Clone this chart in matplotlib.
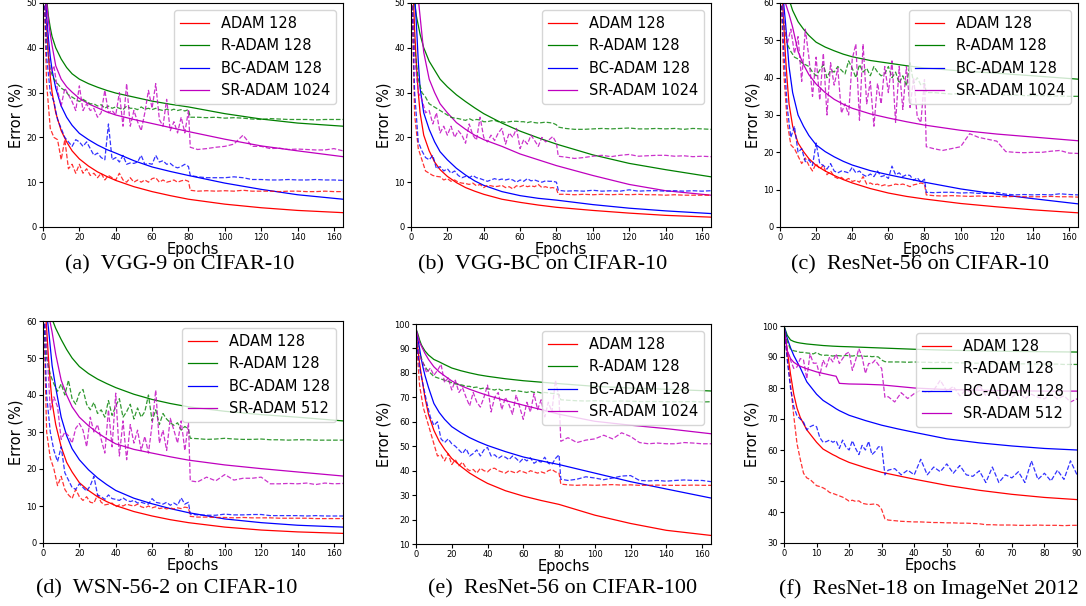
import matplotlib.pyplot as plt

# ----- epochs ----------------------------------------------------------------
train_ep = [0, 1, 2, 3, 4, 5, 7, 10, 13, 16, 20, 25, 30, 35, 40, 50, 60, 70, 80, 100, 120, 140, 165]
test_ep = list(range(0, 81, 2)) + [81] + list(range(85, 166, 5))
train_ep_in = [0, 1, 2, 3, 4, 5, 7, 10, 12, 15, 16, 17, 20, 25, 30, 35, 40, 50, 60, 70, 80, 90]
test_ep_in = list(range(0, 33)) + list(range(34, 91, 2))

labels = ["ADAM 128", "R-ADAM 128", "BC-ADAM 128"]
colors = ["r", "g", "b", "m"]

# ----- (a) VGG-9 on CIFAR-10 -------------------------------------------------
a_adam_train = [90, 55, 45, 38, 33.5, 30, 25.5, 21.5, 19, 17, 15.2, 13.6, 12.3, 11.3, 10.4, 9.0, 7.9, 7.0, 6.2, 5.1, 4.3, 3.7, 3.2]
a_radam_train = [90, 58, 51, 47, 44.5, 42.5, 40, 37.5, 35.6, 34.2, 33, 32, 31.2, 30.5, 29.9, 29, 28.1, 27.4, 26.8, 25.3, 24.1, 23.2, 22.5]
a_bc_train = [90, 55, 47, 42, 38, 35, 31, 27, 24.5, 22.7, 20.9, 19.5, 18.3, 17.3, 16.5, 14.8, 13.4, 12.4, 11.5, 9.8, 8.4, 7.2, 6.2]
a_sr_train = [90, 60, 50, 46, 43, 40.5, 36, 33, 31.3, 30.1, 28.7, 27.5, 26.6, 25.7, 25, 24, 23.1, 22.2, 21.3, 19.6, 18.1, 17.0, 15.7]
a_adam_test = [60, 32, 22, 20, 19.5, 15, 19.5, 13, 14, 12, 14, 12, 13, 11.5, 12, 11, 12, 10.5, 11.5, 11, 10.5,
               12, 10.5, 10, 11, 10, 10.5, 10, 10.5, 10, 10.8, 11, 10, 10.5, 10, 10.2, 10.5, 10, 10.3, 10.5, 10.2,
               8.2, 8, 8.1, 8, 8.1, 8, 8.2, 8, 8, 8, 7.9, 8, 8, 7.9, 7.9, 8, 7.9, 7.9]
a_radam_test = [60, 42, 35, 33, 32, 31, 30.5, 29.5, 29, 28.5, 28, 28.5, 28, 27.5, 27.5, 27, 27.3, 26.5, 27, 26.5, 26.8,
                26.5, 26.2, 27, 26.5, 26.5, 26.2, 26.8, 26.3, 26.5, 26.2, 26.5, 26.2, 26, 26.3, 26, 26.3, 26, 26.2, 25.9, 26.2,
                24.5, 24.5, 24.4, 24.5, 24.3, 24.4, 24.3, 24.1, 24, 24.2, 24.1, 24, 24, 24, 23.9, 24, 24, 24]
a_bc_test = [60, 38, 30, 28, 24, 22, 20, 19, 18, 19.5, 19, 18, 19, 17.5, 16, 16.5, 15.5, 15, 23, 15, 15.5,
             14.5, 16, 14, 14.3, 14.2, 14.5, 16, 14, 14.2, 14, 16, 14.5, 14.8, 14, 14.2, 13.5, 13.2, 13.5, 14, 13.5,
             11.5, 11.2, 11, 11, 11, 11.2, 11, 10.6, 10.6, 10.5, 10.5, 10.6, 10.5, 10.5, 10.6, 10.5, 10.5, 10.4]
a_sr_test = [60, 45, 34, 36, 30.5, 27, 31, 29.5, 28, 26, 31.5, 26, 27.5, 26, 26.5, 24.5, 25.5, 30.5, 25.5, 26, 25,
             30, 22.5, 32, 22.5, 26, 23.5, 21.5, 25.5, 30.5, 26.5, 32, 24, 22.5, 28.5, 21.5, 23.5, 21, 24.5, 21, 26,
             17.8, 17.3, 17.5, 17.8, 18, 18.5, 20.5, 18, 18, 17.5, 17.6, 17.3, 17.4, 17.3, 17.2, 17.2, 17.5, 17]

# ----- (b) VGG-BC on CIFAR-10 ------------------------------------------------
b_adam_train = [90, 55, 44, 36, 30, 25.5, 20.5, 17, 14.5, 12.8, 11.3, 9.9, 8.8, 8.0, 7.3, 6.2, 5.5, 4.9, 4.4, 3.7, 3.1, 2.6, 2.2]
b_radam_train = [90, 55, 50, 47, 45, 43, 40, 37, 35, 33, 31.3, 29.5, 28, 26.6, 25.3, 23.2, 21.4, 19.9, 18.5, 16.1, 14.2, 12.8, 11.2]
b_bc_train = [90, 60, 52, 45, 37, 31, 25.5, 21.8, 19, 16.8, 15, 13.1, 11.6, 10.3, 9.3, 7.9, 7.0, 6.4, 6.0, 5.0, 4.2, 3.6, 3.0]
b_sr_train = [90, 62, 58, 55, 51, 47, 39, 33, 30, 27.5, 25.5, 23.3, 21.8, 20.5, 19.5, 18, 16.3, 15, 13.7, 11.5, 9.5, 8.1, 7.1]
b_adam_test = [60, 25, 17.5, 15, 12.5, 12, 11.5, 11.3, 11.2, 10.5, 10.8, 10.2, 10.5, 10, 9.8, 9.7, 9.5, 9.8, 9.2, 9.5, 8.8,
               9.3, 9.2, 9, 9.1, 9.3, 8.8, 9, 8.5, 9.2, 9, 9.3, 9, 9.2, 9, 9.5, 8.8, 9, 8.7, 8.8, 8.5,
               7.3, 7.3, 7.2, 7.3, 7.2, 7.3, 7.2, 7.3, 7.2, 7.3, 7.2, 7.2, 7.1, 7.2, 7.1, 7.1, 7.1, 7.1]
b_radam_test = [60, 40, 33, 30, 29, 27.5, 27, 26.5, 26, 25.5, 25, 24.5, 24.3, 24.2, 24, 23.8, 24.2, 23.8, 24, 23.9, 23.5,
                23.5, 23.7, 23.8, 23.5, 23.5, 23.3, 23.5, 23.6, 23.6, 23.5, 23.5, 23.3, 23.5, 23.3, 23.2, 23.3, 23.4, 23.3, 23.2, 22.8,
                22.3, 22, 21.8, 21.8, 21.9, 22, 21.9, 22, 22.1, 21.9, 21.9, 22, 21.9, 22, 21.8, 22, 21.9, 21.8]
b_bc_test = [60, 30, 19, 17, 15.5, 15, 16, 13, 13.5, 12.5, 13, 12, 12.5, 11.5, 11, 11.3, 11, 11.5, 11, 10.8, 10.5,
             10.2, 10.5, 10.8, 10.5, 10.7, 10.5, 10.7, 10.5, 10, 10.5, 10.2, 10.8, 10.3, 10.5, 10.2, 10, 10.3, 10.2, 10.2, 10,
             8.2, 8, 8.1, 8, 8.2, 8, 8.1, 8, 8.3, 8, 8.1, 8.1, 8, 8.1, 8, 8.1, 8, 8.1]
b_sr_test = [60, 38, 30, 28.5, 25.5, 26, 23, 25.5, 21, 22.5, 20.5, 22.5, 20, 21.5, 20.5, 18.7, 23, 20.5, 19.4, 24.5, 20,
             19, 20.5, 19.3, 21, 22, 18.5, 21, 20, 22, 17.5, 19.5, 18.5, 20.5, 19.3, 18, 20, 19, 19.5, 20.2, 18.7,
             15.8, 15.6, 15.3, 15.5, 15.8, 16, 15.7, 16, 16.2, 15.8, 15.9, 16, 16, 15.8, 15.9, 15.7, 15.8, 15.7]

# ----- (c) ResNet-56 on CIFAR-10 ---------------------------------------------
c_adam_train = [90, 65, 55, 46, 39, 33, 27, 22.5, 20.2, 18.3, 16.5, 15, 13.8, 12.7, 11.8, 10.3, 9.1, 8.2, 7.5, 6.3, 5.4, 4.6, 3.8]
c_radam_train = [90, 72, 68, 66, 63, 61, 58, 55, 53, 51.3, 49.5, 48.2, 47.2, 46.3, 45.6, 44.6, 43.9, 43.2, 42.6, 41.8, 41.2, 40.5, 39.6]
c_bc_train = [90, 65, 60, 55, 49, 43, 36, 30, 27, 24.5, 22, 20.2, 18.8, 17.6, 16.6, 15.1, 14, 13, 12, 10.2, 8.8, 7.6, 6.2]
c_sr_train = [90, 62, 61, 60, 58.5, 57, 53.5, 47, 43.5, 40.8, 38.3, 36, 34.2, 32.9, 31.8, 30.3, 29.2, 28.2, 27.3, 25.9, 24.9, 24.1, 23.1]
c_adam_test = [70, 42, 28, 22, 21, 19, 17, 18.5, 16.5, 15, 17, 15.5, 16.5, 14, 15, 13.5, 13, 13.3, 12.5, 13, 12.2,
               12.5, 12, 13.5, 11.5, 11.8, 11.3, 11.5, 11, 11.3, 11, 11.2, 11.5, 11.3, 11.5, 11.2, 10.8, 11.3, 11.5, 11.8, 11.5,
               8.6, 8.4, 8.3, 8.4, 8.3, 8.2, 8.3, 8.2, 8.2, 8.1, 8.2, 8.1, 8.1, 8.1, 8.2, 8.1, 8.1, 8.0]
c_radam_test = [70, 55, 49, 47, 45.5, 45, 44, 43.5, 43, 41.5, 40.5, 42, 43.5, 40, 42, 41.5, 43, 42, 41, 44.5, 42.5,
                40, 43.5, 41.5, 42.5, 40.5, 43, 41.5, 40.5, 41, 43, 40, 41.5, 38.5, 40.5, 37.8, 44, 38.5, 40, 38, 38.5,
                36, 36, 35.8, 35.6, 35.8, 35.5, 35.6, 35.5, 35.6, 35.3, 35.4, 35.2, 35.2, 35.2, 35.1, 35.1, 35, 35]
c_bc_test = [70, 48, 32, 24, 27, 20, 21, 17.5, 18, 16.5, 22.5, 17, 16.5, 15.5, 17, 15, 14.5, 15, 14.8, 14.5, 16,
             14.5, 15, 14, 13.5, 14.2, 13.5, 15, 13.5, 13.8, 13, 16.3, 14, 14.5, 13.5, 14, 13.8, 12.5, 13.2, 12, 12.8,
             9.3, 9.2, 9.3, 9.3, 9.1, 9.2, 9, 9, 9.3, 8.8, 8.6, 8.7, 8.6, 8.7, 8.6, 8.9, 8.7, 8.6]
c_sr_test = [70, 56, 49, 53, 46.5, 51, 39, 53, 45.5, 35, 45.5, 34, 46.5, 30, 44, 38, 42.5, 30.5, 33, 30, 45,
             49, 28.6, 49, 33, 39, 27, 38.5, 33, 43, 36, 44.5, 28, 43, 31.5, 43, 32, 40, 29.5, 28, 39.5,
             21.5, 21, 20.5, 21, 21.5, 25, 24, 23.5, 23, 20.2, 20, 19.9, 20, 20, 20.3, 20.5, 19.8, 19.7]

# ----- (d) WSN-56-2 on CIFAR-10 ----------------------------------------------
d_adam_train = [90, 65, 58, 50, 43.5, 38, 32, 26, 21.8, 19.2, 16.3, 14.2, 12.5, 11.2, 10.1, 8.5, 7.3, 6.3, 5.5, 4.3, 3.5, 3.0, 2.6]
d_radam_train = [90, 70, 67.5, 65, 62.5, 60.5, 58, 55, 52.3, 50, 47.7, 45.8, 44.3, 43.1, 42, 40.2, 38.8, 37.7, 36.8, 35.6, 34.7, 34, 33]
d_bc_train = [90, 65, 62, 58, 53, 48, 42, 34, 29, 25.5, 22.5, 19.8, 17.6, 15.8, 14.2, 12.1, 10.6, 9.3, 8.2, 6.5, 5.5, 4.8, 4.3]
d_sr_train = [90, 65, 63.5, 62, 59.5, 57, 51, 44, 40, 36.8, 34, 31.7, 29.8, 28.2, 26.8, 25.3, 24.3, 23.3, 22.4, 21.1, 20.1, 19.2, 18.1]
d_adam_test = [70, 30, 23, 20, 15.5, 18, 14.5, 13, 12, 14.5, 12.5, 11.5, 12.5, 11, 10.8, 13, 11, 10.3, 10.5, 10.8, 9.8,
               10.3, 10, 10.5, 10.2, 10, 10.5, 9.8, 9.5, 10, 9.5, 9.8, 9.3, 9.5, 9.2, 9.5, 9.2, 9.5, 9.3, 9.7, 9.5,
               7.2, 7, 7, 6.9, 6.9, 6.8, 6.9, 6.8, 6.8, 6.8, 6.7, 6.7, 6.7, 6.7, 6.6, 6.6, 6.6, 6.6]
d_radam_test = [70, 50, 45.5, 43, 41, 43, 40, 44, 39, 37.5, 40.5, 41.5, 37.5, 36, 38, 35, 36, 34, 38.5, 34.5, 37,
                39, 34, 35.5, 37.5, 33.5, 36.5, 34, 35.5, 40, 33, 36, 32, 35, 33.5, 32.5, 31.8, 32.5, 30.5, 31.5, 30.8,
                28.3, 28.2, 28, 28.1, 28.3, 28.1, 28, 28, 28.1, 27.9, 27.9, 27.8, 27.9, 27.9, 27.8, 27.8, 27.8, 27.8]
d_bc_test = [70, 40, 30, 25, 22, 26, 19, 17, 15, 14.5, 16, 15, 14, 15.5, 18, 13, 12.5, 11.8, 13, 12, 11.8,
             11.5, 12.2, 11.5, 11.2, 11.5, 10.8, 11, 10.7, 10.5, 12, 11, 10.8, 10.5, 11, 10.2, 10.8, 10.2, 12.2, 10.5, 11,
             7.8, 7.6, 7.5, 7.5, 7.8, 7.6, 7.6, 7.7, 7.7, 7.4, 7.4, 7.4, 7.4, 7.3, 7.4, 7.3, 7.3, 7.3]
d_sr_test = [70, 54, 36, 39.5, 36.8, 28, 30, 29, 27, 31, 32.3, 30.5, 26, 34, 30, 32, 28, 24.3, 36, 26, 40.5,
             23.5, 33, 22.5, 32, 27, 30.5, 25, 28.8, 24.3, 32, 41.3, 27, 30.5, 25, 33.7, 30.5, 27, 33, 25, 32.5,
             16.8, 16.5, 17.8, 16.8, 18.5, 17, 17.5, 17.5, 17.8, 16, 16, 16.1, 16, 16.2, 15.8, 16.2, 16, 16.1]

# ----- (e) ResNet-56 on CIFAR-100 --------------------------------------------
e_adam_train = [97, 90, 84, 79, 74.5, 70, 63, 56.5, 52, 48.7, 45, 41.8, 39, 36.8, 34.8, 31.8, 29.6, 27.8, 26.2, 21.8, 18.4, 15.6, 13.5]
e_radam_train = [98, 96, 93.5, 91.5, 90.2, 89, 87.3, 85.5, 84.5, 83.4, 82, 80.9, 80, 79.2, 78.6, 77.6, 76.8, 76.2, 75.6, 74.5, 73.8, 73.3, 72.6]
e_bc_train = [98, 94, 90, 85.5, 82, 79, 74, 67.5, 63.8, 61, 58, 55.6, 53.5, 51.8, 50.3, 47.8, 45.6, 44, 42.5, 39, 35.5, 32.5, 28.8]
e_sr_train = [98, 95, 92.5, 91, 89.5, 88, 85.5, 82.5, 80.4, 78.8, 76.7, 74.8, 73.3, 72, 70.8, 68.7, 66.8, 65, 63.1, 60.2, 58.6, 57.2, 55.1]
e_adam_test = [95, 75, 66, 61, 56, 51, 46, 46.5, 44, 47, 42.5, 44.5, 42, 43.5, 41, 40, 40.5, 39, 41, 40, 39.5,
               40.8, 41, 40, 39.5, 39, 40, 39.5, 39, 40, 39.5, 39, 40, 39.5, 39, 39.5, 39, 40, 40.5, 39.5, 39,
               34.5, 34.2, 34, 34.2, 34, 34.2, 34.3, 34.1, 34.2, 34, 34, 34.1, 34, 34, 34, 34.1, 34, 34]
e_radam_test = [95, 88, 84, 81.5, 80, 78.5, 78, 77.5, 77, 76.5, 76, 75.5, 75.3, 75, 74.5, 74.5, 74, 74.2, 73.5, 73.8, 73.5,
                73.3, 73, 73.5, 72.8, 73, 73.2, 72.6, 72.8, 72.5, 72.3, 72, 72.5, 72, 72.2, 71.8, 72, 71.8, 71.6, 71.5, 71.2,
                69, 68.8, 68.6, 68.5, 68.6, 68.5, 68.4, 68.5, 68.4, 68.3, 68.3, 68.3, 68.2, 68.2, 68.2, 68.3, 68.1, 68.2]
e_bc_test = [95, 82, 75, 68, 62, 58.5, 60, 53, 51.5, 53, 51, 50, 48.5, 47, 49, 46, 47, 48.5, 46, 48.5, 49.5,
             46, 46.5, 45, 46, 45.5, 44.5, 46, 45, 43.5, 45, 44, 45.3, 43, 44, 43.5, 45.5, 43, 42.5, 45, 46.5,
             36.5, 36, 36.5, 37.5, 37, 36.3, 37, 37.8, 38, 36, 35.8, 36, 35.7, 36, 36.2, 36, 36, 35.5]
e_sr_test = [95, 87, 84, 80, 82, 79, 81, 83.5, 76, 78, 73, 77, 72, 74, 70, 66.5, 72, 68, 66, 70, 75,
             64, 70, 72, 65, 70, 67, 63, 71, 66, 61, 68, 64, 71.5, 65, 69, 62, 68, 64, 77, 70,
             52, 53.5, 51.5, 52.5, 53, 54.5, 53, 55.5, 54, 51.5, 51, 51.3, 51, 51, 51.5, 51.3, 51, 51]

# ----- (f) ResNet-18 on ImageNet 2012 ----------------------------------------
f_adam_train = [100, 92, 84.5, 78, 73.5, 70.5, 66.5, 62.5, 60.3, 58.5, 58, 57.4, 56, 54.3, 52.8, 51.7, 50.6, 48.6, 47, 45.7, 44.7, 44]
f_radam_train = [100, 97, 95.5, 95, 94.7, 94.5, 94.2, 93.9, 93.7, 93.5, 93.45, 93.4, 93.3, 93.1, 92.9, 92.7, 92.5, 92.2, 92, 91.8, 91.7, 91.6]
f_bc_train = [100, 96, 93, 90.5, 88.5, 86.5, 82, 78, 76, 74, 73.3, 72.7, 71.2, 69.5, 68, 66.8, 65.7, 63.6, 62.3, 61.3, 60.5, 60]
f_sr_train = [100, 92, 89.5, 88.3, 87.6, 87, 86.2, 85.2, 84.7, 84, 83.8, 81.5, 81.3, 81.2, 81, 80.5, 80, 79.5, 79.3, 79.1, 79, 79]
f_adam_test = [100, 90, 81, 71, 62, 57, 52.5, 51, 50.5, 49.5, 48.5, 48.2, 47.8, 47.2, 46.3, 46, 45.6, 45.2, 44.8, 44.2,
               43.5, 43.8, 43.4, 43.6, 42.8, 42.6, 42.4, 42.5, 42.6, 42.2, 40.8, 37.8, 37.4,
               37.2, 37, 36.9, 36.8, 36.8, 36.7, 36.6, 36.6, 36.5, 36.5, 36.4, 36.4, 36.3, 36.2, 35.9,
               35.9, 35.8, 35.8, 35.8, 35.7, 35.7, 35.7, 35.8, 35.7, 35.7, 35.7, 35.6, 35.7, 35.7]
f_radam_test = [100, 95, 92.5, 92, 91.8, 91.5, 91.5, 91.3, 91.2, 91, 91.5, 90.8, 90.5, 90.6, 90.5, 90.3, 90.5, 90.4, 90.3, 90.5,
                90.4, 90.3, 90.5, 90.3, 90.4, 90.2, 90.3, 90.1, 90.2, 90, 89, 88.5, 88.4,
                88.4, 88.4, 88.3, 88.4, 88.3, 88.3, 88.2, 88.3, 88.2, 88.2, 88.1, 88.1, 88, 88, 88,
                87.9, 87.9, 87.9, 87.8, 87.8, 87.8, 87.8, 87.7, 87.7, 87.7, 87.7, 87.6, 87.6, 87.6]
f_bc_test = [100, 89, 80, 74, 71, 70, 69, 66.5, 67.5, 68, 67.5, 64, 62.5, 62.7, 63.2, 62.5, 63, 60.5, 63.2, 61,
             60, 63, 60.5, 58.5, 61.5, 60, 62.8, 58.5, 59.5, 61, 61.2, 52, 53.5,
             54, 52, 53.5, 52, 57, 52, 54.5, 53, 55.5, 52.5, 55, 52, 51.5, 53.3, 49.5,
             54.5, 49.5, 52, 51, 53, 49.5, 56.5, 50.5, 52.5, 50, 53.5, 50.5, 56.5, 52]
f_sr_test = [100, 92, 89, 86.3, 86.8, 89.5, 89, 83, 91, 88, 88, 84, 89, 86.8, 90, 88.4, 91, 87.9, 89.5, 91,
             91.6, 85.7, 89, 92.7, 90, 84.7, 87.9, 87.9, 89, 87.5, 86.3, 77, 77.2,
             75.5, 78.5, 76.6, 78.2, 79.3, 78.4, 79.3, 82.5, 79, 80.5, 77.5, 79.5, 78, 81, 77.5,
             79, 76.5, 78.5, 77, 79, 76.5, 78, 77, 76.5, 78, 76.5, 77.5, 75.5, 76.5]

# caption, epochs, train/test series, y range, last legend label, axes rect in px (left, top, right, bottom)
panels = [
    ("(a)  VGG-9 on CIFAR-10", train_ep, test_ep,
     [a_adam_train, a_radam_train, a_bc_train, a_sr_train], [a_adam_test, a_radam_test, a_bc_test, a_sr_test],
     (0, 50), "SR-ADAM 1024", (43, 3, 343, 227), (180, 265)),
    ("(b)  VGG-BC on CIFAR-10", train_ep, test_ep,
     [b_adam_train, b_radam_train, b_bc_train, b_sr_train], [b_adam_test, b_radam_test, b_bc_test, b_sr_test],
     (0, 50), "SR-ADAM 1024", (411, 3, 711, 227), (543, 265)),
    ("(c)  ResNet-56 on CIFAR-10", train_ep, test_ep,
     [c_adam_train, c_radam_train, c_bc_train, c_sr_train], [c_adam_test, c_radam_test, c_bc_test, c_sr_test],
     (0, 60), "SR-ADAM 1024", (780, 3, 1078, 227), (920, 265)),
    ("(d)  WSN-56-2 on CIFAR-10", train_ep, test_ep,
     [d_adam_train, d_radam_train, d_bc_train, d_sr_train], [d_adam_test, d_radam_test, d_bc_test, d_sr_test],
     (0, 60), "SR-ADAM 512", (43, 321, 343, 543), (167, 589)),
    ("(e)  ResNet-56 on CIFAR-100", train_ep, test_ep,
     [e_adam_train, e_radam_train, e_bc_train, e_sr_train], [e_adam_test, e_radam_test, e_bc_test, e_sr_test],
     (10, 100), "SR-ADAM 1024", (416, 324, 711, 544), (563, 589)),
    ("(f)  ResNet-18 on ImageNet 2012", train_ep_in, test_ep_in,
     [f_adam_train, f_radam_train, f_bc_train, f_sr_train], [f_adam_test, f_radam_test, f_bc_test, f_sr_test],
     (30, 100), "SR-ADAM 512", (784, 326, 1077, 543), (929, 589)),
]

W, H = 1086, 606
fig = plt.figure(figsize=(W / 100, H / 100), dpi=100)

for caption, tr_ep, te_ep, trains, tests, ylim, sr_label, rect, cap_pos in panels:
    l, t, r, b = rect
    ax = fig.add_axes([l / W, 1 - b / H, (r - l) / W, (b - t) / H])
    names = labels + [sr_label]
    for k in range(4):
        ax.plot(tr_ep, trains[k], color=colors[k], lw=0.9, label=names[k])
    for k in range(4):
        ax.plot(te_ep, tests[k], color=colors[k], lw=0.9, ls="--", alpha=0.8)
    xmax = tr_ep[-1]
    ax.set_xlim(0, xmax)
    ax.set_ylim(*ylim)
    ax.set_xticks(range(0, xmax, 20) if xmax > 100 else range(0, xmax + 1, 10))
    ax.set_yticks(range(ylim[0], ylim[1] + 1, 10))
    ax.tick_params(labelsize=6, length=3, width=0.8, pad=1.5)
    ax.set_xlabel("Epochs", fontsize=10.5, labelpad=0)
    ax.set_ylabel("Error (%)", fontsize=10.5, labelpad=2)
    ax.legend(loc="upper right", fontsize=10.5)
    fig.text(cap_pos[0] / W, 1 - cap_pos[1] / H, caption, ha="center", va="center",
             family="Liberation Serif", fontsize=16)

plt.savefig("out.png", dpi=100)
